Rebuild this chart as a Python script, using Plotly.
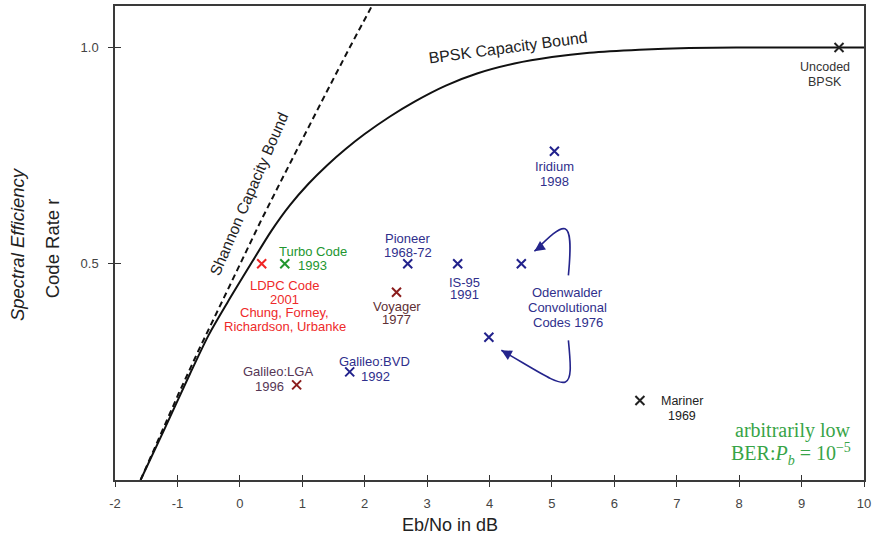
import plotly.graph_objects as go

# ---- data ----
shannon_ebno = [-1.59, -1.44, -1.29, -0.98, -0.66, -0.33, 0.0, 0.34, 0.69, 1.04, 1.40, 1.76, 2.13]
shannon_rate = [0.0, 0.05, 0.10, 0.20, 0.30, 0.40, 0.50, 0.60, 0.70, 0.80, 0.90, 1.00, 1.10]

bpsk_ebno = [-1.59, -1.2, -0.8, -0.5, -0.2, 0.2, 0.5, 0.8, 1.1, 1.4, 1.7, 2.0, 2.4, 2.8,
             3.3, 3.8, 4.4, 5.0, 5.6, 6.4, 7.2, 8.0, 10.0]
bpsk_rate = [0.0, 0.12, 0.245, 0.335, 0.41, 0.505, 0.575, 0.635, 0.685, 0.728, 0.766, 0.80,
             0.84, 0.875, 0.912, 0.94, 0.963, 0.978, 0.988, 0.995, 0.999, 1.0, 1.0]

code_names = ["Uncoded BPSK", "Iridium 1998", "Pioneer 1968-72", "IS-95 1991",
              "Odenwalder r=1/2", "Odenwalder r=1/3", "Voyager 1977", "Galileo:BVD 1992",
              "Galileo:LGA 1996", "LDPC Code 2001", "Turbo Code 1993", "Mariner 1969"]
code_ebno = [9.6, 5.04, 2.69, 3.49, 4.51, 3.99, 2.51, 1.76, 0.91, 0.35, 0.72, 6.41]
code_rate = [1.0, 0.76, 0.5, 0.5, 0.5, 0.33, 0.434, 0.25, 0.22, 0.5, 0.5, 0.184]
code_group = ["black", "blue", "blue", "blue", "blue", "blue", "brown", "blue",
              "brown", "red", "green", "black"]

x_ticks = [-2, -1, 0, 1, 2, 3, 4, 5, 6, 7, 8, 9, 10]
x_tick_text = ["-2", "-1", "0", "1", "2", "3", "4", "5", "6", "7", "8", "9", "10"]
y_ticks = [0.5, 1.0]
y_tick_text = ["0.5", "1.0"]

# ---- styles ----
group_color = {"black": "#222222", "blue": "#22228c", "brown": "#8b1d1d",
               "red": "#f02424", "green": "#22962f"}
BLUE_TXT = "#2f2f8c"
FONT = "Liberation Sans, Arial, sans-serif"
SERIF = "Liberation Serif, Times New Roman, serif"

fig = go.Figure()

fig.add_trace(go.Scatter(x=shannon_ebno, y=shannon_rate, mode="lines",
                         line=dict(color="#111111", width=2, dash="6px,4px"),
                         hoverinfo="skip"))
fig.add_trace(go.Scatter(x=bpsk_ebno, y=bpsk_rate, mode="lines", line_shape="spline",
                         line=dict(color="#111111", width=2, smoothing=0.8), hoverinfo="skip"))

for g in ["black", "blue", "brown", "red", "green"]:
    idx = [i for i, c in enumerate(code_group) if c == g]
    fig.add_trace(go.Scatter(
        x=[code_ebno[i] for i in idx], y=[code_rate[i] for i in idx],
        text=[code_names[i] for i in idx], mode="markers",
        marker=dict(symbol="x-thin", size=9, line=dict(width=2, color=group_color[g])),
        hovertemplate="%{text}<extra></extra>"))

# duplicate axes to draw the crossing half of each tick
fig.add_trace(go.Scatter(x=[], y=[], xaxis="x2", yaxis="y2", showlegend=False))

annotations = []


def label(text, x, y, color, size=13, angle=0, family=FONT):
    annotations.append(dict(text=text, x=x, y=y, xref="x", yref="y", showarrow=False,
                            xanchor="center", yanchor="middle", textangle=angle,
                            font=dict(family=family, size=size, color=color)))


label("Shannon Capacity Bound", 0.15, 0.662, "#222222", size=15.5, angle=-66.7)
label("BPSK Capacity Bound", 4.3, 1.0, "#222222", size=16, angle=-7.6)
label("Uncoded", 9.38, 0.955, "#333333", 12.5)
label("BPSK", 9.38, 0.921, "#333333", 12.5)
label("Iridium", 5.04, 0.725, BLUE_TXT)
label("1998", 5.04, 0.691, BLUE_TXT)
label("Pioneer", 2.69, 0.558, BLUE_TXT)
label("1968-72", 2.69, 0.526, BLUE_TXT)
label("IS-95", 3.60, 0.456, BLUE_TXT)
label("1991", 3.60, 0.428, BLUE_TXT)
label("Odenwalder", 5.25, 0.4345, BLUE_TXT)
label("Convolutional", 5.25, 0.399, BLUE_TXT)
label("Codes 1976", 5.25, 0.365, BLUE_TXT)
label("Voyager", 2.51, 0.401, "#5e2f35")
label("1977", 2.51, 0.370, "#5e2f35")
label("Galileo:BVD", 2.16, 0.273, BLUE_TXT)
label("1992", 2.18, 0.239, BLUE_TXT)
label("Galileo:LGA", 0.61, 0.251, "#553655")
label("1996", 0.48, 0.216, "#553655")
label("Turbo Code", 1.17, 0.528, "#22962f")
label("1993", 1.17, 0.496, "#22962f")
label("LDPC Code", 0.72, 0.450, "#ee2a2a")
label("2001", 0.72, 0.417, "#ee2a2a")
label("Chung, Forney,", 0.72, 0.387, "#ee2a2a")
label("Richardson, Urbanke", 0.72, 0.356, "#ee2a2a")
label("Mariner", 7.09, 0.182, "#222222", 12.5)
label("1969", 7.09, 0.147, "#222222", 12.5)
label("arbitrarily low", 8.87, 0.114, "#37a447", 20, family=SERIF)
label("BER:<i>P</i><sub><i>b</i></sub> = 10<sup>\u22125</sup>", 8.83, 0.060, "#37a447", 20,
      family=SERIF)

# axis titles
annotations.append(dict(text="<i>Spectral Efficiency</i>", x=-0.1293, y=0.498, xref="paper",
                        yref="paper", showarrow=False, textangle=-90, xanchor="center",
                        yanchor="middle", font=dict(family=FONT, size=18.5, color="#222222")))
annotations.append(dict(text="Code Rate r", x=-0.084, y=0.489, xref="paper", yref="paper",
                        showarrow=False, textangle=-90, xanchor="center", yanchor="middle",
                        font=dict(family=FONT, size=18.5, color="#222222")))
annotations.append(dict(text="Eb/No in dB", x=0.447, y=-0.0945, xref="paper", yref="paper",
                        showarrow=False, xanchor="center", yanchor="middle",
                        font=dict(family=FONT, size=18, color="#222222")))

# Odenwalder curved arrows
arrow_paths = [
    ("M 5.264,0.473 C 5.36,0.619 5.20,0.596 4.72,0.529", (4.88, 0.545), (4.72, 0.529)),
    ("M 5.264,0.323 C 5.36,0.185 5.28,0.209 4.19,0.300", (4.35, 0.287), (4.19, 0.300)),
]
shapes = []
for path, tail, tip in arrow_paths:
    shapes.append(dict(type="path", path=path, xref="x", yref="y",
                       line=dict(color="#24248c", width=1.6)))
    annotations.append(dict(x=tip[0], y=tip[1], ax=tail[0], ay=tail[1], xref="x", yref="y",
                            axref="x", ayref="y", text="", showarrow=True, arrowhead=2,
                            arrowsize=1.3, arrowwidth=1.6, arrowcolor="#24248c"))

axis_common = dict(showgrid=False, zeroline=False, ticklen=5, tickwidth=1.3,
                   tickcolor="#333333", linecolor="#3a3a3a", linewidth=1.5)

fig.update_layout(
    width=875, height=537,
    margin=dict(l=115, r=10, t=4, b=57),
    plot_bgcolor="white", paper_bgcolor="white",
    showlegend=False,
    xaxis=dict(range=[-2, 10], tickvals=x_ticks, ticktext=x_tick_text, ticks="outside",
               showline=True, mirror=True, ticklabelstandoff=6,
               tickfont=dict(family=FONT, size=13, color="#444444"), **axis_common),
    yaxis=dict(range=[0, 1.096], tickvals=y_ticks, ticktext=y_tick_text, ticks="outside",
               showline=True, mirror=True, ticklabelstandoff=7,
               tickfont=dict(family=FONT, size=13, color="#444444"), **axis_common),
    xaxis2=dict(range=[-2, 10], tickvals=x_ticks, ticks="inside", overlaying="x",
                anchor="y2", side="bottom", showticklabels=False, showline=False,
                showgrid=False, zeroline=False, ticklen=5, tickwidth=1.3, tickcolor="#333333"),
    yaxis2=dict(range=[0, 1.096], tickvals=y_ticks, ticks="inside", overlaying="y",
                anchor="x2", side="left", showticklabels=False, showline=False,
                showgrid=False, zeroline=False, ticklen=6, tickwidth=1.3, tickcolor="#333333"),
    annotations=annotations,
    shapes=shapes,
)

fig.write_html("out.html")
